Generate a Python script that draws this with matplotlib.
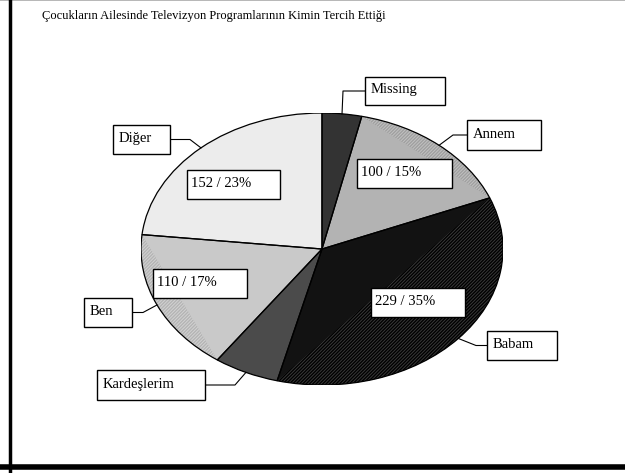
import numpy as np
import matplotlib.pyplot as plt
from matplotlib.patches import Polygon, Rectangle, Wedge

plt.rcParams['font.family'] = ['Liberation Serif', 'DejaVu Serif']

title = "Çocukların Ailesinde Televizyon Programlarının Kimin Tercih Ettiği"
labels = ["Missing", "Annem", "Babam", "Kardeşlerim", "Ben", "Diğer"]
counts = [23, 100, 229, 38, 110, 152]
show_value = [False, True, True, False, True, True]

# colours: inner triangle, outer rim, rim hatch
fill_cols = ['#333333', '#b3b3b3', '#121212', '#4b4b4b', '#c9c9c9', '#ececec']
rim_cols = ['#333333', '#c2c2c2', '#3a3a3a', '#4b4b4b', '#d3d3d3', '#ececec']
hatch_cols = ['#333333', '#a0a0a0', '#000000', '#4b4b4b', '#b4b4b4', '#ececec']

# layout in pixels (x0, y0, x1, y1), leader side and elbow x
name_boxes = [(365, 77, 445, 105), (467, 120, 541, 150), (487, 331, 557, 360),
              (97, 370, 205, 400), (84, 298, 132, 327), (113, 125, 170, 154)]
elbow_x = [343, 453, 476, 235, 143, 190]
value_boxes = [None, (357, 159, 452, 188), (371, 288, 465, 317),
               None, (153, 269, 247, 298), (187, 170, 280, 199)]

W, H = 625, 473
cx, cy, rx, ry = 322, 249, 181, 136

fig = plt.figure(figsize=(W / 100, H / 100), dpi=100)

pax = fig.add_axes([(cx - rx) / W, (H - cy - ry) / H, 2 * rx / W, 2 * ry / H])
wedges, _ = pax.pie(counts, colors=rim_cols, startangle=90, counterclock=False)
for w, hc in zip(wedges, hatch_cols):
    w.set_hatch('/' * 10)
    w.set_edgecolor(hc)
    w.set_linewidth(0)
for w, fc in zip(wedges, fill_cols):
    t1, t2 = np.radians(w.theta1), np.radians(w.theta2)
    pax.add_patch(Polygon([(0, 0), (np.cos(t1), np.sin(t1)), (np.cos(t2), np.sin(t2))],
                          closed=True, facecolor=fc, edgecolor='none', zorder=2))
    pax.add_patch(Wedge((0, 0), 1, w.theta1, w.theta2, fill=False,
                        edgecolor='black', lw=0.9, zorder=3))
pax.set_xlim(-1, 1)
pax.set_ylim(-1, 1)
pax.set_aspect('auto')
pax.axis('off')

ax = fig.add_axes([0, 0, 1, 1])
ax.set_xlim(0, W)
ax.set_ylim(H, 0)
ax.patch.set_alpha(0)
ax.axis('off')

# frame
ax.plot([0, W], [0.5, 0.5], color='#aaaaaa', lw=1.2)
ax.plot([9.5, 9.5], [0, H], color='black', lw=2.5)
ax.plot([0, W], [467, 467], color='black', lw=4)

ax.text(42, 16, title, fontsize=9, va='center', ha='left')

total = sum(counts)
for i, w in enumerate(wedges):
    mid = np.radians((w.theta1 + w.theta2) / 2)
    px, py = cx + rx * np.cos(mid), cy - ry * np.sin(mid)
    x0, y0, x1, y1 = name_boxes[i]
    ym = (y0 + y1) / 2
    edge = x0 if elbow_x[i] < x0 else x1
    ax.plot([edge, elbow_x[i], px], [ym, ym, py], color='black', lw=0.8)
    ax.add_patch(Rectangle((x0, y0), x1 - x0, y1 - y0, facecolor='white',
                           edgecolor='black', lw=1, zorder=4))
    ax.text(x0 + 6, ym - 1, labels[i], fontsize=10.5, va='center', ha='left', zorder=5)
    if show_value[i]:
        vx0, vy0, vx1, vy1 = value_boxes[i]
        ax.add_patch(Rectangle((vx0, vy0), vx1 - vx0, vy1 - vy0, facecolor='white',
                               edgecolor='black', lw=1, zorder=4))
        ax.text(vx0 + 4, (vy0 + vy1) / 2 - 1, f"{counts[i]} / {round(100 * counts[i] / total)}%",
                fontsize=10.5, va='center', ha='left', zorder=5)

fig.savefig('out.png', dpi=100)
